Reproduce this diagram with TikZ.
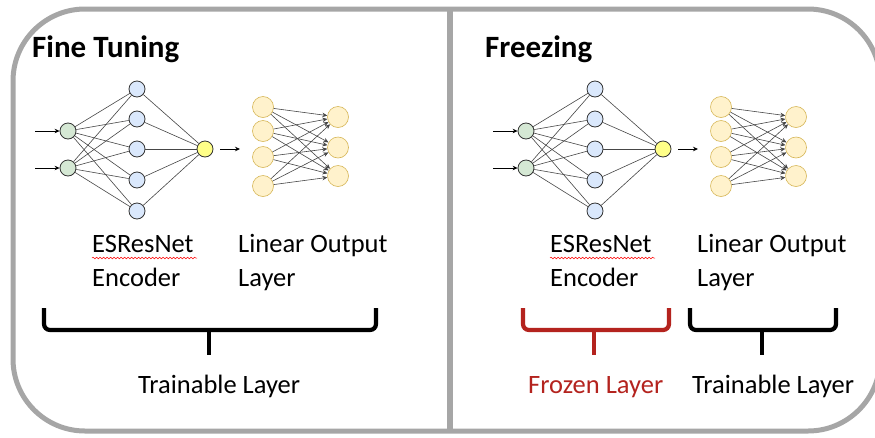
\documentclass[tikz,border=0pt]{standalone}
\usepackage{fontspec}
\setmainfont{Carlito}
\usetikzlibrary{arrows.meta,decorations.pathmorphing}
\definecolor{framegray}{RGB}{166,166,166}
\definecolor{gfill}{HTML}{D5E8D4}
\definecolor{bfill}{HTML}{DAE8FC}
\definecolor{yfill}{HTML}{FFFF88}
\definecolor{ofill}{HTML}{FFF2CC}
\definecolor{oline}{HTML}{D6B656}
\definecolor{frozenred}{RGB}{180,35,30}
\definecolor{wiregray}{RGB}{70,70,70}
\tikzset{
  neuron/.style={circle,draw=black!80,line width=0.8pt,minimum size=16pt,inner sep=0pt},
  innode/.style={neuron,fill=gfill},
  hidnode/.style={neuron,fill=bfill},
  outnode/.style={neuron,fill=yfill},
  linnode/.style={circle,draw=oline,line width=0.6pt,fill=ofill,minimum size=21pt,inner sep=0pt},
  wire/.style={draw=wiregray,line width=0.6pt},
  arrowtip/.style={-{Stealth[length=5pt,width=4.5pt]}},
  txt/.style={inner sep=0pt,anchor=base west,font=\fontsize{26.5}{30}\selectfont},
  ttl/.style={inner sep=0pt,anchor=base west,font=\fontsize{31}{36}\selectfont\bfseries},
  bracestroke/.style={line width=4.2pt,rounded corners=6pt},
  squiggle/.style={draw=red,line width=0.5pt,decorate,decoration={snake,amplitude=0.8pt,segment length=3.5pt}},
  net/.pic={
    \node[innode] (-g1) at (68,131) {};
    \node[innode] (-g2) at (68,168) {};
    \foreach \i/\yy in {1/89,2/119,3/149,4/180,5/211}
      \node[hidnode] (-h\i) at (137,\yy) {};
    \node[outnode] (-o) at (205,149) {};
    \foreach \i/\yy in {1/107,2/131,3/157,4/186}
      \node[linnode] (-a\i) at (263,\yy) {};
    \foreach \i/\yy in {1/117,2/147.5,3/176}
      \node[linnode] (-b\i) at (338,\yy) {};
    \coordinate (-s1) at (35,131);
    \coordinate (-s2) at (35,168);
    \coordinate (-oe) at (240,149);
    \foreach \i in {1,2}
      \foreach \j in {1,...,5}
        \draw[wire] (-g\i) -- (-h\j);
    \foreach \j in {1,...,5}
      \draw[wire] (-h\j) -- (-o);
    \foreach \i in {1,...,4}
      \foreach \j in {1,2,3}
        \draw[wire,arrowtip] (-a\i) -- (-b\j);
    \draw[wire,line width=0.8pt,arrowtip,draw=black] (-s1) -- (-g1);
    \draw[wire,line width=0.8pt,arrowtip,draw=black] (-s2) -- (-g2);
    \draw[wire,line width=0.8pt,arrowtip,draw=black] (-o.east) ++(7,0) coordinate (-os) (-os) -- (-oe);
  }
}
\begin{document}
\begin{tikzpicture}[x=1pt,y=-1pt]
  \clip (0,0) rectangle (875,437);
  \fill[white] (0,0) rectangle (875,437);
  % frame and divider
  \draw[framegray,line width=5pt,rounded corners=72pt] (13,9) rectangle (880,431);
  \draw[framegray,line width=6pt] (450,9) -- (450,431);
  % titles
  \node[ttl] (t1) at (32,57) {Fine Tuning};
  \node[ttl] (t2) at (485,57) {Freezing};
  % networks
  \pic (L) at (0,0) {net};
  \pic (R) at (458,0) {net};
  % left labels
  \node[txt] (enc1) at (92,252) {ESResNet};
  \node[txt] (enc1b) at (92,286) {Encoder};
  \node[txt] (lin1) at (238,252) {Linear Output};
  \node[txt] (lin1b) at (238,286) {Layer};
  \draw[squiggle] (enc1.base west) ++(0,6) -- ++(105,0);
  \draw[bracestroke] (44,308) -- (44,330) -- (376,330) -- (376,308);
  \draw[bracestroke,rounded corners=0pt] (209,330) -- (209,355);
  \node[txt] (tr1) at (138,393) {Trainable Layer};
  % right labels
  \node[txt] (enc2) at (550,252) {ESResNet};
  \node[txt] (enc2b) at (550,286) {Encoder};
  \node[txt] (lin2) at (697,252) {Linear Output};
  \node[txt] (lin2b) at (697,286) {Layer};
  \draw[squiggle] (enc2.base west) ++(0,6) -- ++(105,0);
  \draw[bracestroke,frozenred] (523,308) -- (523,330) -- (669,330) -- (669,308);
  \draw[bracestroke,frozenred,rounded corners=0pt] (594,330) -- (594,355);
  \draw[bracestroke] (690,308) -- (690,330) -- (836,330) -- (836,308);
  \draw[bracestroke,rounded corners=0pt] (762,330) -- (762,355);
  \node[txt,text=frozenred] (fr2) at (528,393) {Frozen Layer};
  \node[txt] (tr2) at (692,393) {Trainable Layer};
\end{tikzpicture}
\end{document}
